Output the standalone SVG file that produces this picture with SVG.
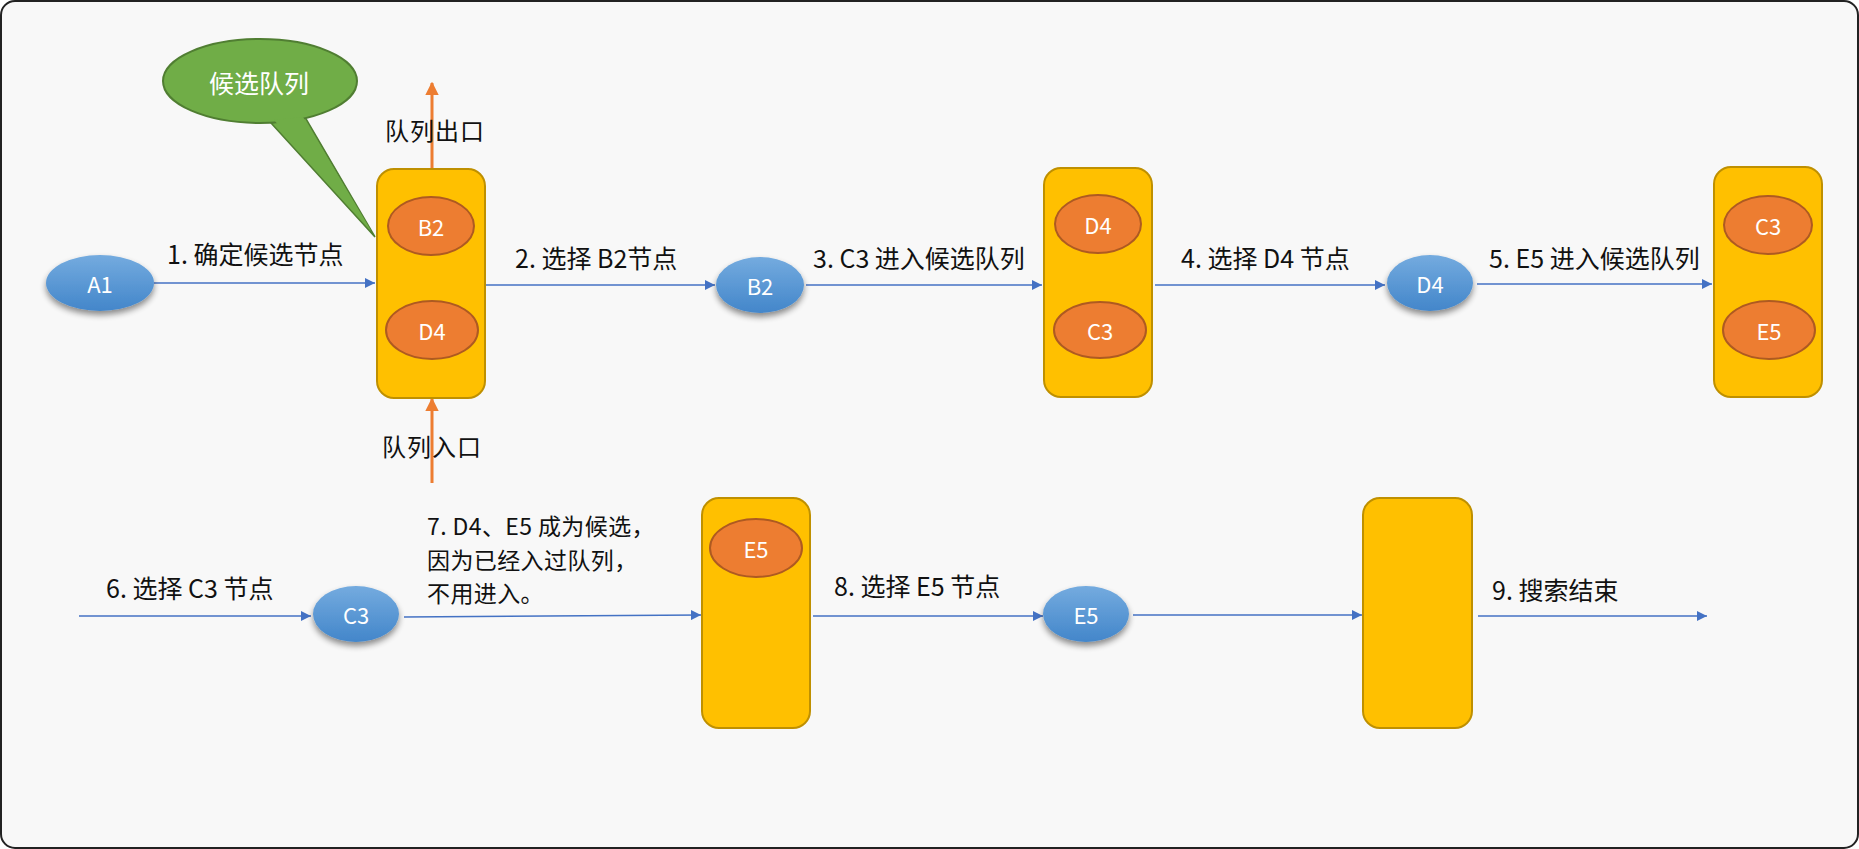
<svg xmlns="http://www.w3.org/2000/svg" width="1859" height="849" viewBox="0 0 1859 849">
<defs>
<style>
text{font-family:"Noto Sans CJK SC","Microsoft YaHei","Noto Sans",sans-serif;}
.lbl{font-size:25px;fill:#111;}
.ml{font-size:24px;fill:#111;}
.ml7{font-size:23px;fill:#111;letter-spacing:0.4px;}
.nt{font-size:22px;fill:#fff;text-anchor:middle;dominant-baseline:central;}
.box{fill:#ffc000;stroke:#bf9000;stroke-width:2;}
.on{fill:#ed7d31;stroke:#ae5a21;stroke-width:2;}
.bn{fill:url(#bg);filter:url(#sh);}
.ln{stroke:#4472c4;stroke-width:1.5;fill:none;marker-end:url(#ab);}
.oln{stroke:#ed7d31;stroke-width:3;fill:none;marker-end:url(#ao);}
</style>
<linearGradient id="bg" x1="0" y1="0" x2="0" y2="1">
<stop offset="0" stop-color="#74abdf"/>
<stop offset="1" stop-color="#4386ca"/>
</linearGradient>
<filter id="sh" x="-30%" y="-30%" width="160%" height="170%">
<feGaussianBlur in="SourceAlpha" stdDeviation="3"/>
<feOffset dx="0" dy="4" result="o"/>
<feComponentTransfer><feFuncA type="linear" slope="0.45"/></feComponentTransfer>
<feMerge><feMergeNode/><feMergeNode in="SourceGraphic"/></feMerge>
</filter>
<marker id="ab" viewBox="0 0 10 10" refX="10" refY="5" markerWidth="10" markerHeight="10" markerUnits="userSpaceOnUse" orient="auto">
<path d="M0,0 L10,5 L0,10 z" fill="#4472c4"/>
</marker>
<marker id="ao" viewBox="0 0 10 10" refX="9" refY="5" markerWidth="4.5" markerHeight="4.5" orient="auto">
<path d="M0,0 L10,5 L0,10 z" fill="#ed7d31"/>
</marker>
</defs>
<rect x="1" y="1" width="1857" height="847" rx="14" fill="#f8f8f8" stroke="#222" stroke-width="2"/>

<g id="callout">
<path d="M271,123 L375,237 L305,117 Z" fill="#70ad47" stroke="#507e32" stroke-width="1.5"/>
<ellipse cx="260" cy="81" rx="97" ry="42" fill="#70ad47" stroke="#507e32" stroke-width="2"/>
<path d="M274,120 L372,232 L303,117 Z" fill="#70ad47"/>
<text x="259" y="82" class="nt" style="font-size:25px">候选队列</text>
</g>

<g id="connectors">
<line x1="154" y1="283" x2="375" y2="283" class="ln"/>
<line x1="486" y1="285" x2="715" y2="285" class="ln"/>
<line x1="806" y1="285" x2="1042" y2="285" class="ln"/>
<line x1="1155" y1="285" x2="1385" y2="285" class="ln"/>
<line x1="1477" y1="284" x2="1712" y2="284" class="ln"/>
<line x1="79" y1="616" x2="311" y2="616" class="ln"/>
<line x1="404" y1="617" x2="701" y2="615" class="ln"/>
<line x1="813" y1="616" x2="1043" y2="616" class="ln"/>
<line x1="1133" y1="615" x2="1362" y2="615" class="ln"/>
<line x1="1478" y1="616" x2="1707" y2="616" class="ln"/>
<line x1="432" y1="168" x2="432" y2="83" class="oln"/>
<line x1="432" y1="483" x2="432" y2="399" class="oln"/>
</g>

<g id="labels">
<text x="167" y="264" class="lbl">1. 确定候选节点</text>
<text x="515" y="268" class="lbl">2. 选择 B2节点</text>
<text x="813" y="268" class="lbl">3. C3 进入候选队列</text>
<text x="1181" y="268" class="lbl">4. 选择 D4 节点</text>
<text x="1489" y="268" class="lbl">5. E5 进入候选队列</text>
<text x="385" y="140" class="ml" style="letter-spacing:1px">队列出口</text>
<text x="382" y="456" class="ml" style="letter-spacing:1px">队列入口</text>
<text x="106" y="598" class="lbl">6. 选择 C3 节点</text>
<text class="ml7"><tspan x="427" y="535">7. D4、E5 成为候选，</tspan><tspan x="427" y="568.5">因为已经入过队列，</tspan><tspan x="427" y="602">不用进入。</tspan></text>
<text x="834" y="596" class="lbl">8. 选择 E5 节点</text>
<text x="1492" y="600" class="lbl">9. 搜索结束</text>
</g>

<g id="A1"><ellipse cx="100" cy="283" rx="54" ry="28" class="bn"/><text x="100" y="283" class="nt">A1</text></g>

<g id="queue1">
<rect x="377" y="169" width="108" height="229" rx="17" class="box"/>
<ellipse cx="431" cy="226" rx="43" ry="29" class="on"/><text x="431" y="226" class="nt">B2</text>
<ellipse cx="432" cy="330" rx="46" ry="29" class="on"/><text x="432" y="330" class="nt">D4</text>
</g>

<g id="B2"><ellipse cx="760" cy="285" rx="44" ry="28" class="bn"/><text x="760" y="285" class="nt">B2</text></g>

<g id="queue2">
<rect x="1044" y="168" width="108" height="229" rx="17" class="box"/>
<ellipse cx="1098" cy="224" rx="43" ry="29" class="on"/><text x="1098" y="224" class="nt">D4</text>
<ellipse cx="1100" cy="330" rx="46" ry="28" class="on"/><text x="1100" y="330" class="nt">C3</text>
</g>

<g id="D4"><ellipse cx="1430" cy="283" rx="43" ry="28" class="bn"/><text x="1430" y="283" class="nt">D4</text></g>

<g id="queue3">
<rect x="1714" y="167" width="108" height="230" rx="17" class="box"/>
<ellipse cx="1768" cy="225" rx="44" ry="29" class="on"/><text x="1768" y="225" class="nt">C3</text>
<ellipse cx="1769" cy="330" rx="46" ry="29" class="on"/><text x="1769" y="330" class="nt">E5</text>
</g>

<g id="C3"><ellipse cx="356" cy="614" rx="43" ry="28" class="bn"/><text x="356" y="614" class="nt">C3</text></g>

<g id="queue4">
<rect x="702" y="498" width="108" height="230" rx="17" class="box"/>
<ellipse cx="756" cy="548" rx="46" ry="29" class="on"/><text x="756" y="548" class="nt">E5</text>
</g>

<g id="E5"><ellipse cx="1086" cy="614" rx="43" ry="28" class="bn"/><text x="1086" y="614" class="nt">E5</text></g>

<g id="queue5">
<rect x="1363" y="498" width="109" height="230" rx="17" class="box"/>
</g>
</svg>
